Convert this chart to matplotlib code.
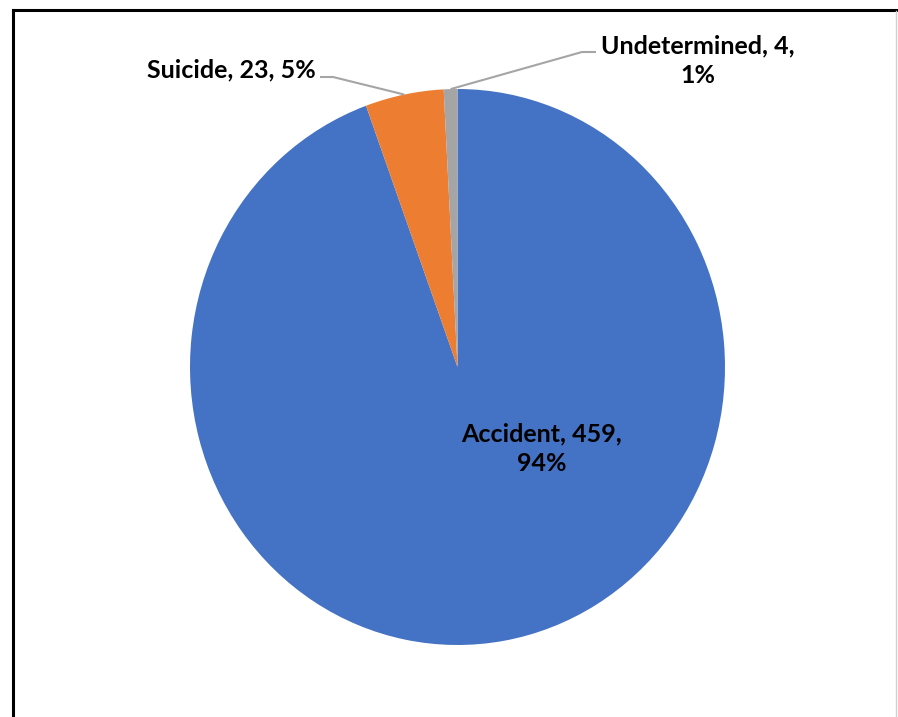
import matplotlib.pyplot as plt
from matplotlib.lines import Line2D
import numpy as np

plt.rcParams['font.family'] = ['Lato', 'DejaVu Sans']

names = ['Accident', 'Suicide', 'Undetermined']
counts = [459, 23, 4]
colors = ['#4472C4', '#ED7D31', '#A5A5A5']

W, H = 898, 717
fig = plt.figure(figsize=(W / 100, H / 100), dpi=100)

# pie box in pixels (left, top, right, bottom)
px_l, px_t, px_r, px_b = 190, 89, 725, 645
ax = fig.add_axes([px_l / W, 1 - px_b / H, (px_r - px_l) / W, (px_b - px_t) / H])
wedges, _ = ax.pie(counts, colors=colors, startangle=90, counterclock=False,
                   wedgeprops=dict(linewidth=0))
ax.set_aspect('auto')
ax.set_xlim(-1, 1)
ax.set_ylim(-1, 1)

total = sum(counts)
pcts = [round(100 * c / total) for c in counts]


def to_data(px, py):
    cx = (px_l + px_r) / 2
    cy = (px_t + px_b) / 2
    return (px - cx) / ((px_r - px_l) / 2), (cy - py) / ((px_b - px_t) / 2)


txt_kw = dict(fontsize=18, fontweight='bold', color='black')

# Accident label inside the slice
x, y = to_data(542, 449)
ax.text(x, y, f'{names[0]}, {counts[0]},\n{pcts[0]}%', ha='center', va='center',
        linespacing=1.35, **txt_kw)

# Suicide label with leader line
x, y = to_data(316, 70)
ax.text(x, y, f'{names[1]}, {counts[1]}, {pcts[1]}%', ha='right', va='center', **txt_kw)
mid = np.deg2rad((wedges[1].theta1 + wedges[1].theta2) / 2)
ex, ey = to_data(333, 77)
sx, _ = to_data(320, 77)
ax.plot([np.cos(mid), ex, sx], [np.sin(mid), ey, ey], color='#A5A5A5', lw=1.5,
        clip_on=False, solid_capstyle='butt')

# Undetermined label with leader line
x, y = to_data(698, 61)
ax.text(x, y, f'{names[2]}, {counts[2]},\n{pcts[2]}%', ha='center', va='center',
        linespacing=1.35, **txt_kw)
mid = np.deg2rad((wedges[2].theta1 + wedges[2].theta2) / 2)
ex, ey = to_data(582, 52)
sx, _ = to_data(596, 52)
ax.plot([np.cos(mid), ex, sx], [np.sin(mid), ey, ey], color='#A5A5A5', lw=1.5,
        clip_on=False, solid_capstyle='butt')

# outer frame
fig.add_artist(Line2D([13 / W, 1], [1 - 9.5 / H, 1 - 9.5 / H], color='black', lw=2.2))
fig.add_artist(Line2D([13 / W, 13 / W], [0, 1 - 9.5 / H], color='black', lw=2.2))
fig.add_artist(Line2D([896 / W, 896 / W], [0, 1 - 11 / H], color='#D0D0D0', lw=1))

fig.savefig('out.png', dpi=100)
